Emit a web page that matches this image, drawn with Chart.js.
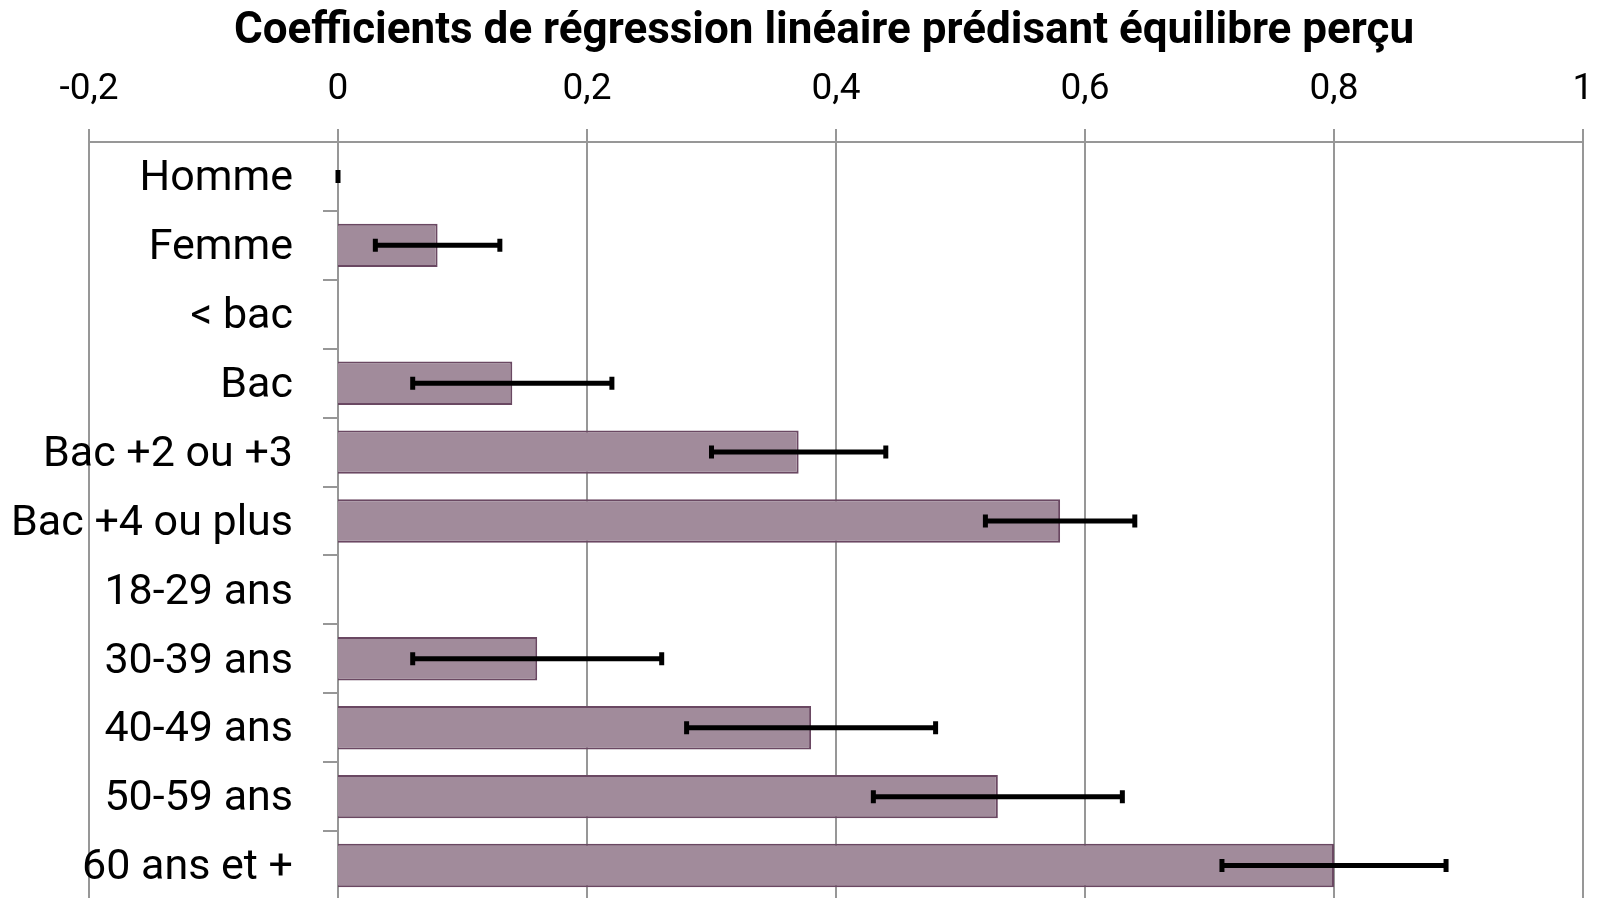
<!DOCTYPE html>
<html lang="fr">
<head>
<meta charset="utf-8">
<title>Coefficients de régression linéaire prédisant équilibre perçu</title>
<script src="https://cdn.jsdelivr.net/npm/chart.js@4/dist/chart.umd.min.js"></script>
<style>
  html, body { margin: 0; padding: 0; background: #ffffff; overflow: hidden; }
  canvas { display: block; }
</style>
</head>
<body>
<canvas id="chart" width="1604" height="900"></canvas>
<script>
// Catégories (de haut en bas)
const categories = ['Homme', 'Femme', '< bac', 'Bac', 'Bac +2 ou +3', 'Bac +4 ou plus',
                    '18-29 ans', '30-39 ans', '40-49 ans', '50-59 ans', '60 ans et +'];

// Coefficients estimés
const coefficients = [0, 0.08, 0, 0.14, 0.37, 0.58, 0, 0.16, 0.38, 0.53, 0.80];

// Bornes des intervalles (null = modalité de référence sans barre d'erreur)
const errorLow  = [0, 0.03, null, 0.06, 0.30, 0.52, null, 0.06, 0.28, 0.43, 0.71];
const errorHigh = [0, 0.13, null, 0.22, 0.44, 0.64, null, 0.26, 0.48, 0.63, 0.89];

// Graduations de l'axe horizontal
const xTickLabels = ['-0,2', '0', '0,2', '0,4', '0,6', '0,8', '1'];

const chartTitle = 'Coefficients de régression linéaire prédisant équilibre perçu';

const GRID_COLOR = '#979797';
const Y_TICK_LENGTH = 15;

// Barres d'erreur dessinées à partir des échelles
const errorBarsPlugin = {
  id: 'errorBars',
  afterDatasetsDraw(chart, args, opts) {
    const { ctx } = chart;
    const xs = chart.scales.x;
    const ys = chart.scales.y;
    ctx.save();
    ctx.strokeStyle = opts.color;
    ctx.lineCap = 'butt';
    for (let i = 0; i < categories.length; i++) {
      if (errorLow[i] === null || errorHigh[i] === null) continue;
      const y = ys.getPixelForValue(i);
      const x1 = xs.getPixelForValue(errorLow[i]);
      const x2 = xs.getPixelForValue(errorHigh[i]);
      ctx.lineWidth = opts.lineWidth;
      ctx.beginPath();
      ctx.moveTo(x1, y);
      ctx.lineTo(x2, y);
      ctx.stroke();
      ctx.lineWidth = opts.capWidth;
      ctx.beginPath();
      ctx.moveTo(x1, y - opts.capHalf);
      ctx.lineTo(x1, y + opts.capHalf);
      ctx.moveTo(x2, y - opts.capHalf);
      ctx.lineTo(x2, y + opts.capHalf);
      ctx.stroke();
    }
    ctx.restore();
  }
};

// Libellés des catégories, alignés à droite devant l'axe placé en x = 0
const categoryLabelsPlugin = {
  id: 'categoryLabels',
  afterDraw(chart, args, opts) {
    const { ctx } = chart;
    const xs = chart.scales.x;
    const ys = chart.scales.y;
    const xRight = xs.getPixelForValue(0) - Y_TICK_LENGTH - opts.gap;
    ctx.save();
    ctx.font = opts.font;
    ctx.fillStyle = opts.color;
    ctx.textAlign = 'right';
    ctx.textBaseline = 'middle';
    categories.forEach((label, i) => {
      ctx.fillText(label, xRight, ys.getPixelForValue(i) + opts.dy);
    });
    ctx.restore();
  }
};

// Titre centré au-dessus des graduations
const titlePlugin = {
  id: 'topTitle',
  afterDraw(chart, args, opts) {
    const { ctx } = chart;
    ctx.save();
    ctx.font = opts.font;
    ctx.fillStyle = opts.color;
    ctx.textAlign = 'center';
    ctx.textBaseline = 'alphabetic';
    ctx.fillText(opts.text, opts.x, opts.y);
    ctx.restore();
  }
};

new Chart(document.getElementById('chart'), {
  type: 'bar',
  data: {
    labels: categories,
    datasets: [{
      label: 'Coefficient',
      data: coefficients,
      backgroundColor: 'rgb(161,139,155)',
      borderColor: 'rgb(106,72,98)',
      borderWidth: 2,
      borderSkipped: 'start',
      barPercentage: 0.63,
      categoryPercentage: 1.0
    }]
  },
  options: {
    indexAxis: 'y',
    responsive: false,
    animation: false,
    devicePixelRatio: 1,
    layout: { padding: { left: 89, right: 21, top: 0, bottom: 0 } },
    scales: {
      x: {
        type: 'linear',
        position: 'top',
        min: -0.2,
        max: 1,
        z: 1,
        afterFit(scale) {
          scale.height = 142;
          scale.paddingLeft = 0;
          scale.paddingRight = 0;
        },
        ticks: {
          stepSize: 0.2,
          padding: 17,
          color: '#000000',
          font: { family: 'Roboto', size: 37 },
          maxRotation: 0,
          callback: (value, index) => xTickLabels[index]
        },
        grid: {
          color: GRID_COLOR,
          lineWidth: 2,
          drawTicks: true,
          tickLength: 13,
          tickColor: GRID_COLOR
        },
        border: { display: true, color: GRID_COLOR, width: 2 }
      },
      y: {
        type: 'category',
        position: { x: 0 },
        offset: true,
        afterFit(scale) {
          scale.paddingTop = 0;
          scale.paddingBottom = 0;
        },
        ticks: { display: false, autoSkip: false },
        grid: {
          offset: true,
          drawOnChartArea: false,
          drawTicks: true,
          tickLength: Y_TICK_LENGTH,
          color: GRID_COLOR,
          lineWidth: 2
        },
        border: { display: false }
      }
    },
    plugins: {
      legend: { display: false },
      tooltip: { enabled: false },
      title: { display: false },
      errorBars: { color: '#000000', lineWidth: 5, capWidth: 5, capHalf: 6.5 },
      categoryLabels: { font: '43px Roboto', color: '#000000', gap: 30, dy: 3 },
      topTitle: {
        text: chartTitle,
        font: 'bold 44px Roboto',
        color: '#000000',
        x: 824,
        y: 43
      }
    }
  },
  plugins: [errorBarsPlugin, categoryLabelsPlugin, titlePlugin]
});
</script>
</body>
</html>
